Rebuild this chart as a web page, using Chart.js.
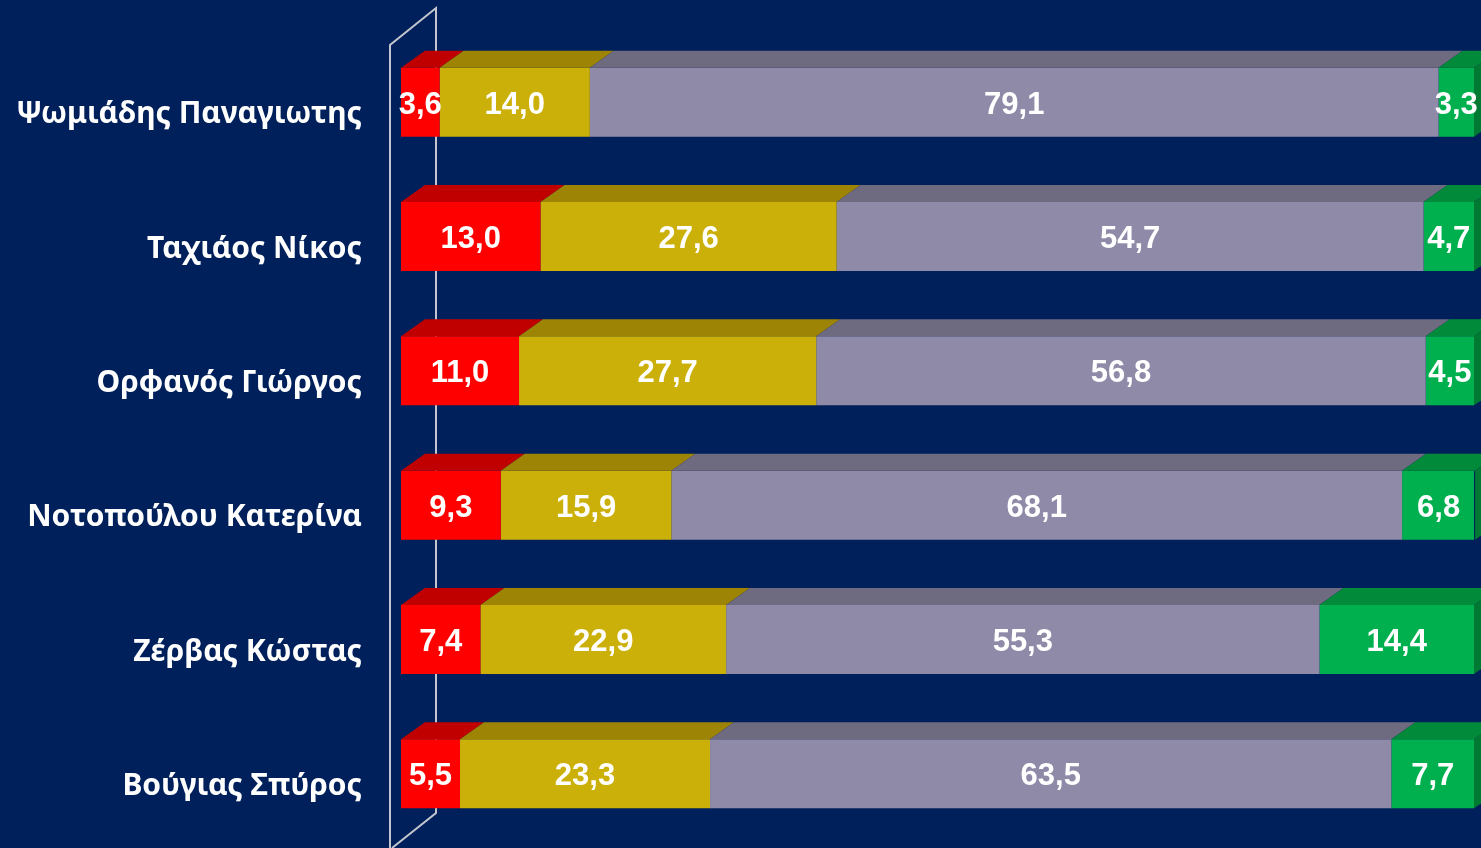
<!DOCTYPE html>
<html>
<head>
<meta charset="utf-8">
<script src="https://cdn.jsdelivr.net/npm/chart.js@4.4.0/dist/chart.umd.min.js"></script>
<style>
  html, body { margin: 0; padding: 0; background: #00205b; }
  #wrap { width: 1481px; height: 848px; }
</style>
</head>
<body>
<div id="wrap"><canvas id="c"></canvas></div>
<script>
const names = ['Ψωμιάδης Παναγιωτης', 'Ταχιάος Νίκος', 'Ορφανός Γιώργος', 'Νοτοπούλου Κατερίνα', 'Ζέρβας Κώστας', 'Βούγιας Σπύρος'];
const red = [3.6, 13.0, 11.0, 9.3, 7.4, 5.5];
const yellow = [14.0, 27.6, 27.7, 15.9, 22.9, 23.3];
const grey = [79.1, 54.7, 56.8, 68.1, 55.3, 63.5];
const green = [3.3, 4.7, 4.5, 6.8, 14.4, 7.7];

// front colour, top colour, side colour
const colors = [
  ['#ff0000', '#c00000', '#a00000'],
  ['#ccb00a', '#9e8404', '#8a7303'],
  ['#8e8aa8', '#6e6a80', '#5e5a70'],
  ['#00b04f', '#008a3a', '#007a33']
];

const DX = 24, DY = 17;

const threeD = {
  id: 'threeD',
  beforeDatasetsDraw(chart) {
    const ctx = chart.ctx, a = chart.chartArea;
    const l = a.left - 11, r = a.left + 35;
    ctx.save();
    ctx.strokeStyle = '#c3c6cf';
    ctx.lineWidth = 2;
    ctx.beginPath();
    ctx.moveTo(l, chart.height);
    ctx.lineTo(l, a.top + 10);
    ctx.lineTo(r, a.top - 27);
    ctx.lineTo(r, a.bottom - 28);
    ctx.lineTo(l + 2, chart.height);
    ctx.stroke();

    // category labels
    const y = chart.scales.y;
    ctx.fillStyle = '#ffffff';
    ctx.font = 'bold 30px "Noto Sans", sans-serif';
    ctx.textAlign = 'right';
    ctx.textBaseline = 'alphabetic';
    names.forEach((n, i) => {
      ctx.fillText(n, a.left - 39, y.getPixelForValue(i) + 21);
    });
    ctx.restore();
  },
  afterDatasetsDraw(chart) {
    const ctx = chart.ctx;
    ctx.save();
    chart.data.datasets.forEach((ds, di) => {
      const meta = chart.getDatasetMeta(di);
      meta.data.forEach((bar) => {
        const p = bar.getProps(['x', 'y', 'base', 'height'], true);
        const top = p.y - p.height / 2, bot = p.y + p.height / 2;
        ctx.fillStyle = colors[di][1];
        ctx.beginPath();
        ctx.moveTo(p.base, top);
        ctx.lineTo(p.x, top);
        ctx.lineTo(p.x + DX, top - DY);
        ctx.lineTo(p.base + DX, top - DY);
        ctx.closePath();
        ctx.fill();
        if (di === chart.data.datasets.length - 1) {
          ctx.fillStyle = colors[di][2];
          ctx.beginPath();
          ctx.moveTo(p.x, top);
          ctx.lineTo(p.x + DX, top - DY);
          ctx.lineTo(p.x + DX, bot - DY);
          ctx.lineTo(p.x, bot);
          ctx.closePath();
          ctx.fill();
        }
      });
    });
    ctx.fillStyle = '#ffffff';
    ctx.font = 'bold 31px "Liberation Sans", Arial, sans-serif';
    ctx.textAlign = 'center';
    ctx.textBaseline = 'middle';
    chart.data.datasets.forEach((ds, di) => {
      const meta = chart.getDatasetMeta(di);
      meta.data.forEach((bar, i) => {
        const p = bar.getProps(['x', 'y', 'base'], true);
        ctx.fillText(ds.data[i].toFixed(1).replace('.', ','), (p.x + p.base) / 2, p.y + 3);
      });
    });
    ctx.restore();
  }
};

function make(data, i) {
  return {
    data: data,
    backgroundColor: colors[i][0],
    borderWidth: 0,
    barPercentage: 1,
    categoryPercentage: 0.514
  };
}

new Chart(document.getElementById('c'), {
  type: 'bar',
  data: {
    labels: names,
    datasets: [make(red, 0), make(yellow, 1), make(grey, 2), make(green, 3)]
  },
  options: {
    indexAxis: 'y',
    responsive: true,
    maintainAspectRatio: false,
    animation: false,
    layout: { padding: { top: 35, bottom: 7, right: 7, left: 0 } },
    plugins: { legend: { display: false }, tooltip: { enabled: false } },
    scales: {
      x: { stacked: true, min: 0, max: 100, display: false },
      y: {
        stacked: true,
        grid: { display: false, drawTicks: false },
        border: { display: false },
        ticks: { display: false },
        afterFit(scale) { scale.width = 401; }
      }
    }
  },
  plugins: [threeD]
});
</script>
</body>
</html>
